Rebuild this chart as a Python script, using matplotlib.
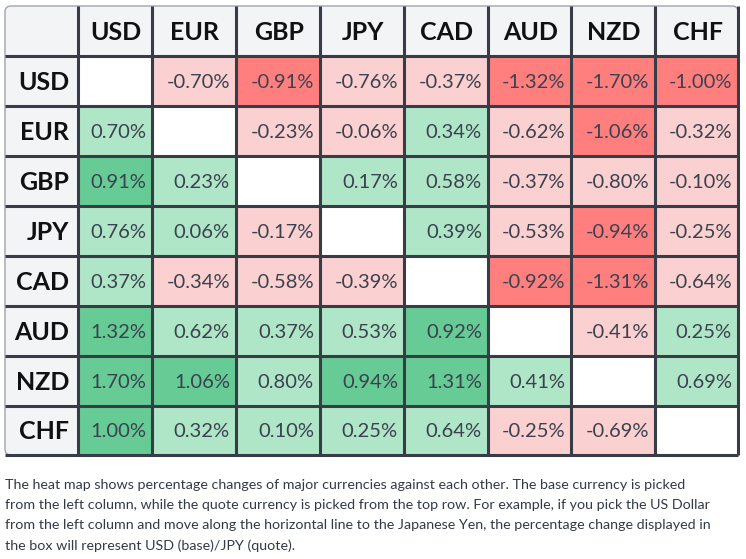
import matplotlib
matplotlib.use("Agg")
import matplotlib.pyplot as plt
from matplotlib.patches import Rectangle, FancyBboxPatch

plt.rcParams["font.family"] = ["Lato", "DejaVu Sans"]

# currencies (rows = base, columns = quote)
currencies = ["USD", "EUR", "GBP", "JPY", "CAD", "AUD", "NZD", "CHF"]
changes = [
    [None, -0.70, -0.91, -0.76, -0.37, -1.32, -1.70, -1.00],
    [0.70, None, -0.23, -0.06, 0.34, -0.62, -1.06, -0.32],
    [0.91, 0.23, None, 0.17, 0.58, -0.37, -0.80, -0.10],
    [0.76, 0.06, -0.17, None, 0.39, -0.53, -0.94, -0.25],
    [0.37, -0.34, -0.58, -0.39, None, -0.92, -1.31, -0.64],
    [1.32, 0.62, 0.37, 0.53, 0.92, None, -0.41, 0.25],
    [1.70, 1.06, 0.80, 0.94, 1.31, 0.41, None, 0.69],
    [1.00, 0.32, 0.10, 0.25, 0.64, -0.25, -0.69, None],
]
note = ("The heat map shows percentage changes of major currencies against each other. The base currency is picked\n"
        "from the left column, while the quote currency is picked from the top row. For example, if you pick the US Dollar\n"
        "from the left column and move along the horizontal line to the Japanese Yen, the percentage change displayed in\n"
        "the box will represent USD (base)/JPY (quote).")

# layout in pixels
col_edges = [5, 78, 152, 236, 320, 404, 488, 571, 655, 738]
row_edges = [6, 56, 106, 156, 206, 256, 306, 356, 406, 455]

def cell_color(v):
    if v is None:
        return "white"
    if v >= 0.9:
        return "#66cb94"
    if v >= 0:
        return "#b0e6c8"
    if v <= -0.9:
        return "#ff7f7f"
    return "#fad0d0"

fig = plt.figure(figsize=(7.46, 5.59), dpi=100)
ax = fig.add_axes([0, 0, 1, 1])
ax.set_xlim(0, 746)
ax.set_ylim(559, 0)
ax.axis("off")

head_bg = "#f3f4f6"
line_c = "#373c47"

# header background with rounded corners
ax.add_patch(FancyBboxPatch((col_edges[0], row_edges[0]), col_edges[-1] - col_edges[0],
                            row_edges[-1] - row_edges[0], boxstyle="round,pad=0,rounding_size=6",
                            facecolor=head_bg, edgecolor="#a0a4ab", linewidth=1.0, zorder=0))

for i, row in enumerate(changes):
    for j, v in enumerate(row):
        x0, x1 = col_edges[j + 1], col_edges[j + 2]
        y0, y1 = row_edges[i + 1], row_edges[i + 2]
        ax.add_patch(Rectangle((x0, y0), x1 - x0, y1 - y0, facecolor=cell_color(v),
                               edgecolor="none", zorder=1))
        if v is not None:
            ax.text(x1 - 6, (y0 + y1) / 2 + 1, f"{v:.2f}%", ha="right", va="center",
                    fontsize=14.5, color="#3b414e", zorder=3)

for k, c in enumerate(currencies):
    xc = (col_edges[k + 1] + col_edges[k + 2]) / 2
    ax.text(xc + 1, (row_edges[0] + row_edges[1]) / 2 + 1, c, ha="center", va="center",
            fontsize=18, fontweight="bold", color="#111111", zorder=3)
    ax.text(col_edges[1] - 9, (row_edges[k + 1] + row_edges[k + 2]) / 2 + 1, c, ha="right",
            va="center", fontsize=18, fontweight="bold", color="#111111", zorder=3)

# grid lines
for x in col_edges[1:]:
    ax.plot([x, x], [row_edges[0], row_edges[-1]], color=line_c, lw=2.2, zorder=2,
            solid_capstyle="butt")
for y in row_edges[1:]:
    ax.plot([col_edges[0], col_edges[-1]], [y, y], color=line_c, lw=2.2, zorder=2,
            solid_capstyle="butt")

ax.text(5, 479, note, ha="left", va="top", fontsize=10.3, color="#333a46",
        linespacing=1.8)

fig.savefig("out.png", dpi=100)
